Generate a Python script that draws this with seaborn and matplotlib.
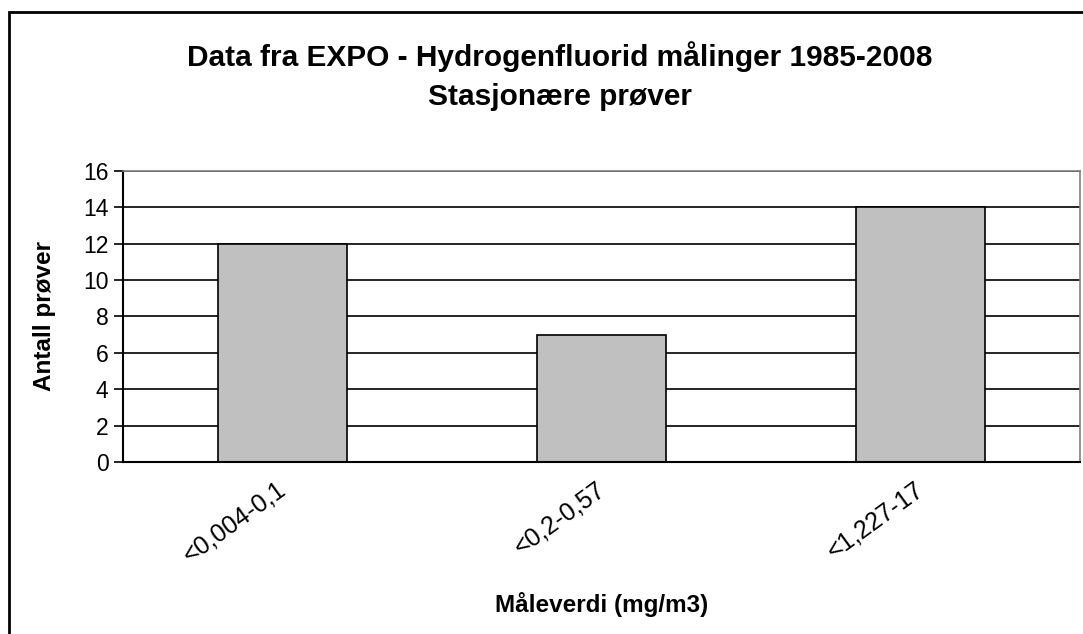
import pandas as pd
import matplotlib.pyplot as plt
import matplotlib.patches as patches
import matplotlib.transforms as mtransforms
import seaborn as sns

sns.set_style("white")
plt.rcParams['font.family'] = ['Liberation Sans', 'DejaVu Sans']
plt.rcParams['text.color'] = 'black'
plt.rcParams['axes.labelcolor'] = 'black'
plt.rcParams['xtick.color'] = 'black'
plt.rcParams['ytick.color'] = 'black'

# Data
categories = ['<0,004-0,1', '<0,2-0,57', '<1,227-17']
antall = [12, 7, 14]

df = pd.DataFrame({'kategori': categories, 'antall': antall})

fig = plt.figure(figsize=(10.83, 6.34), dpi=100)
ax = fig.add_axes([0.1136, 0.2713, 0.8836, 0.4590])

sns.barplot(data=df, x='kategori', y='antall', color='#C0C0C0',
            edgecolor='black', linewidth=1.2, width=0.404, saturation=1, ax=ax)

ax.set_xlim(-0.5, 2.5)
ax.set_ylim(0, 16)
ax.set_yticks(range(0, 17, 2))
ax.yaxis.grid(True, color='black', linewidth=1.2)
ax.set_axisbelow(True)

for side in ['top', 'right']:
    ax.spines[side].set_color('#808080')
    ax.spines[side].set_linewidth(1.2)
for side in ['left', 'bottom']:
    ax.spines[side].set_color('black')
    ax.spines[side].set_linewidth(1.5)

ax.tick_params(axis='y', which='major', direction='out', length=6.5, width=1.2,
               labelsize=16.5, left=True, pad=4)
ax.tick_params(axis='x', length=0, labelsize=18, pad=11)
shift = mtransforms.ScaledTranslation(-0.06, 0, fig.dpi_scale_trans)
for lbl in ax.get_xticklabels():
    lbl.set_rotation(36)
    lbl.set_ha('right')
    lbl.set_rotation_mode('anchor')
    lbl.set_transform(lbl.get_transform() + shift)

ax.set_xlabel('Måleverdi (mg/m3)', fontsize=17.5, fontweight='bold')
ax.set_ylabel('Antall prøver', fontsize=17.5, fontweight='bold')
ax.xaxis.set_label_coords(0.5, -0.491)
ax.xaxis.label.set_va('center')
ax.yaxis.set_label_coords(-0.082, 0.5)
ax.yaxis.label.set_va('center')

fig.text(0.517, 0.91, 'Data fra EXPO - Hydrogenfluorid målinger 1985-2008',
         ha='center', va='center', fontsize=21.5, fontweight='bold')
fig.text(0.517, 0.847, 'Stasjonære prøver',
         ha='center', va='center', fontsize=21.5, fontweight='bold')

# chart frame (extends past right and bottom edge)
frame = patches.Rectangle((9 / 1083, -0.1), 1.2, (634 - 12) / 634 + 0.1,
                          transform=fig.transFigure, fill=False,
                          edgecolor='black', linewidth=2)
fig.patches.append(frame)

fig.savefig('out.png', dpi=100)
